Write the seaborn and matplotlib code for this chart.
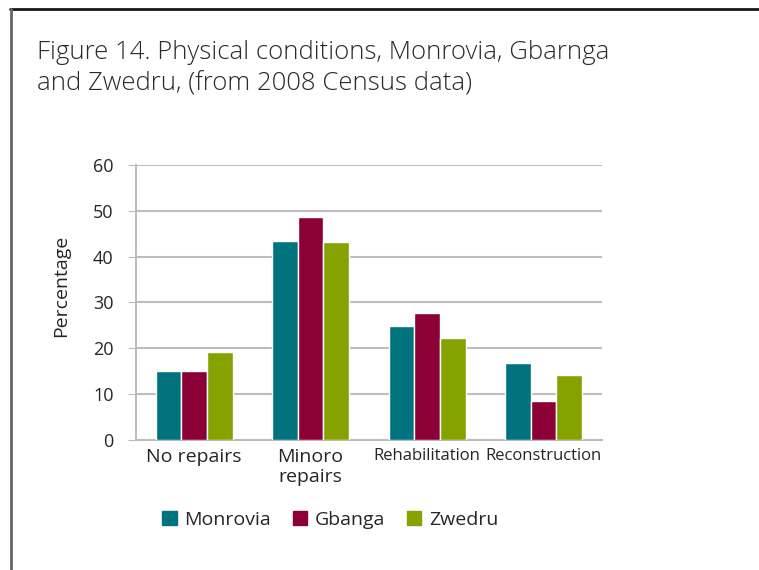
import seaborn as sns
import matplotlib.pyplot as plt
import pandas as pd
from matplotlib.lines import Line2D

categories = ['No repairs', 'Minoro\nrepairs', 'Rehabilitation', 'Reconstruction']
cities = ['Monrovia', 'Gbanga', 'Zwedru']
monrovia = [15.0, 43.4, 24.9, 16.8]
gbanga = [15.0, 48.7, 27.7, 8.5]
zwedru = [19.2, 43.2, 22.3, 14.2]
colors = ['#00737F', '#8B0037', '#86A200']

rows = []
for city, vals in zip(cities, [monrovia, gbanga, zwedru]):
  for cat, v in zip(categories, vals):
    rows.append({'cat': cat, 'city': city, 'value': v})
df = pd.DataFrame(rows)

sns.set_style('white')
plt.rcParams['font.family'] = ['Open Sans', 'DejaVu Sans']

fig = plt.figure(figsize=(7.59, 5.70), dpi=100)
ax = fig.add_axes([0.179, 0.228, 0.614, 0.483])

sns.barplot(data=df, x='cat', y='value', hue='city', palette=colors,
            width=0.66, saturation=1, ax=ax, legend=False, zorder=3)

ax.set_ylim(0, 60)
ax.set_yticks(range(0, 61, 10))
ax.yaxis.grid(True, color='#BDBDBD', linewidth=1.5, zorder=0)
ax.set_axisbelow(True)
for s in ['top', 'right']:
  ax.spines[s].set_visible(False)
ax.spines['left'].set_color('#BDBDBD')
ax.spines['bottom'].set_color('#BDBDBD')
ax.spines['left'].set_linewidth(1.5)
ax.spines['bottom'].set_linewidth(1.5)
ax.tick_params(axis='y', left=True, length=6, color='#BDBDBD', labelsize=13, pad=10)
ax.tick_params(axis='x', bottom=False, labelsize=14, pad=2)
ax.set_xlabel('')
ax.set_ylabel('Percentage', fontsize=14)
ax.yaxis.set_label_coords(-0.142, 0.56)
for lab in ax.get_xticklabels()[2:]:
  lab.set_fontsize(12)

handles = [plt.Rectangle((0, 0), 1, 1, color=c) for c in colors]
fig.legend(handles, cities, loc='center', bbox_to_anchor=(0.435, 0.088), ncol=3,
           frameon=False, fontsize=14, handlelength=0.75, handleheight=0.75,
           columnspacing=1.1, handletextpad=0.4)

fig.text(0.049, 0.929, 'Figure 14. Physical conditions, Monrovia, Gbarnga\nand Zwedru, (from 2008 Census data)',
         fontsize=18.5, va='top', ha='left', linespacing=1.32, color='#2a2a2a',
         fontweight='light')

# frame around figure
fig.add_artist(Line2D([0.013, 1.0], [0.984, 0.984], color='#1a1a1a', linewidth=2, transform=fig.transFigure))
fig.add_artist(Line2D([0.0145, 0.0145], [0.0, 0.985], color='#666666', linewidth=2, transform=fig.transFigure))

fig.savefig('out.png', dpi=100)
